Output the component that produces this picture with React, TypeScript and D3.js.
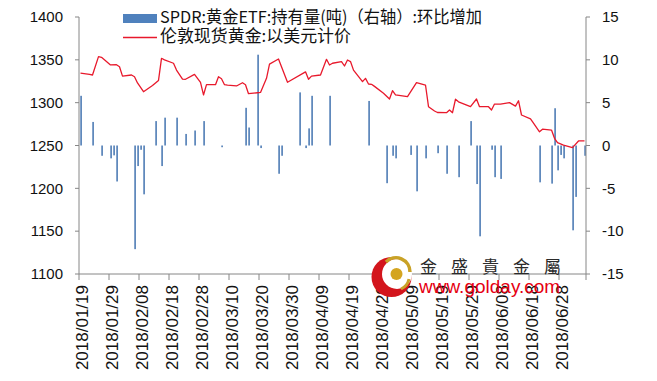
import React from "react";
import * as d3 from "d3";

const W = 657;
const H = 381;

// ETF holdings change (tonnes, right axis)
const etfDates = [
  "2018/01/19", "2018/01/23", "2018/01/26", "2018/01/29", "2018/01/30", "2018/01/31",
  "2018/02/06", "2018/02/07", "2018/02/08", "2018/02/09", "2018/02/13", "2018/02/15",
  "2018/02/16", "2018/02/20", "2018/02/23", "2018/02/26", "2018/03/01", "2018/03/07",
  "2018/03/15", "2018/03/16", "2018/03/19", "2018/03/20", "2018/03/26", "2018/03/27",
  "2018/04/02", "2018/04/04", "2018/04/05", "2018/04/06", "2018/04/12", "2018/04/25",
  "2018/05/01", "2018/05/03", "2018/05/04", "2018/05/09", "2018/05/11", "2018/05/14",
  "2018/05/18", "2018/05/21", "2018/05/25", "2018/05/29", "2018/05/31", "2018/06/01",
  "2018/06/05", "2018/06/06", "2018/06/08", "2018/06/21", "2018/06/25", "2018/06/26",
  "2018/06/27", "2018/06/28", "2018/06/29", "2018/07/02", "2018/07/03", "2018/07/06",
];
const etfValues = [
  5.8, 2.75, -1.2, -1.5, -1.15, -4.2,
  -12.1, -2.4, -0.5, -5.7, 2.85, -2.4,
  3.25, 3.25, 1.35, 1.75, 2.85, -0.2,
  4.4, 2.1, 10.6, -0.3, -3.3, -1.2,
  6.2, -0.3, 2.0, 5.8, 5.8, 5.2,
  -4.4, -1.2, -1.5, -1.1, -5.35, -1.5,
  -0.9, -3.3, -3.7, 2.85, -4.5, -10.6,
  -0.5, -3.7, -3.9, -4.3, -4.45, 4.35,
  -2.9, -1.1, -1.5, -9.9, -6.0, -1.2,
];

// London spot gold, USD (left axis)
const goldDates = [
  "2018/01/19", "2018/01/22", "2018/01/23", "2018/01/25", "2018/01/26", "2018/01/29",
  "2018/01/31", "2018/02/01", "2018/02/02", "2018/02/05", "2018/02/06", "2018/02/07",
  "2018/02/09", "2018/02/12", "2018/02/14", "2018/02/15", "2018/02/16", "2018/02/19",
  "2018/02/20", "2018/02/22", "2018/02/23", "2018/02/26", "2018/02/28", "2018/03/01",
  "2018/03/02", "2018/03/05", "2018/03/06", "2018/03/07", "2018/03/08", "2018/03/09",
  "2018/03/12", "2018/03/14", "2018/03/15", "2018/03/16", "2018/03/19", "2018/03/20",
  "2018/03/22", "2018/03/23", "2018/03/26", "2018/03/29", "2018/04/04", "2018/04/05",
  "2018/04/06", "2018/04/09", "2018/04/11", "2018/04/12", "2018/04/13", "2018/04/16",
  "2018/04/17", "2018/04/18", "2018/04/19", "2018/04/20", "2018/04/23", "2018/04/24",
  "2018/04/25", "2018/04/26", "2018/04/27", "2018/04/30", "2018/05/02", "2018/05/03",
  "2018/05/04", "2018/05/08", "2018/05/11", "2018/05/14", "2018/05/15", "2018/05/17",
  "2018/05/18", "2018/05/21", "2018/05/22", "2018/05/23", "2018/05/24", "2018/05/25",
  "2018/05/29", "2018/05/31", "2018/06/01", "2018/06/04", "2018/06/05", "2018/06/06",
  "2018/06/08", "2018/06/11", "2018/06/13", "2018/06/14", "2018/06/15", "2018/06/18",
  "2018/06/19", "2018/06/21", "2018/06/22", "2018/06/25", "2018/06/26", "2018/06/27",
  "2018/06/29", "2018/07/02", "2018/07/04", "2018/07/06",
];
const goldValues = [
  1334.5, 1333, 1332.3, 1353.7, 1353, 1344,
  1344.3, 1342, 1331, 1332.3, 1330.3, 1323,
  1312.8, 1320, 1326, 1351.8, 1350, 1346,
  1338, 1327.6, 1327.3, 1333, 1323.8, 1309,
  1321, 1321, 1330.3, 1328, 1321, 1320.5,
  1319.5, 1323.3, 1321, 1310.5, 1311.6, 1312,
  1328.4, 1345, 1351, 1323.8, 1336, 1327.3,
  1331, 1332.3, 1350.6, 1344, 1346, 1347.9,
  1342.8, 1349.8, 1348, 1338, 1324.5, 1328.4,
  1321.8, 1321.4, 1319, 1311, 1304.3, 1314,
  1309, 1307, 1323.3, 1320.6, 1295.3, 1290.3,
  1288.5, 1288.3, 1291.4, 1288.3, 1304, 1301,
  1295.3, 1304.3, 1295.3, 1295.3, 1291.4, 1298.4,
  1298.4, 1300, 1296, 1302.3, 1285.6, 1281,
  1276, 1266, 1269, 1268, 1258.4, 1253.3,
  1250.5, 1247.5, 1255.3, 1255.3,
];

const xTickLabels = [
  "2018/01/19", "2018/01/29", "2018/02/08", "2018/02/18", "2018/02/28", "2018/03/10",
  "2018/03/20", "2018/03/30", "2018/04/09", "2018/04/19", "2018/04/29", "2018/05/09",
  "2018/05/19", "2018/05/29", "2018/06/08", "2018/06/18", "2018/06/28",
];
const leftTicks = [1100, 1150, 1200, 1250, 1300, 1350, 1400];
const rightTicks = [-15, -10, -5, 0, 5, 10, 15];
const xDomain = ["2018/01/19", "2018/07/07"];

const legendBar = "SPDR:黄金ETF:持有量(吨)（右轴）:环比增加";
const legendLine = "伦敦现货黄金:以美元计价";

const parse = d3.utcParse("%Y/%m/%d");

export default function App() {
  const left = 79, right = 586, top = 17, bottom = 274;
  const x = d3.scaleUtc().domain(xDomain.map((s) => parse(s) as Date)).range([left, right]);
  const yL = d3.scaleLinear().domain([1100, 1400]).range([bottom, top]);
  const yR = d3.scaleLinear().domain([-15, 15]).range([bottom, top]);
  const center = (s: string) => x(d3.utcHour.offset(parse(s) as Date, 12));

  const line = d3
    .line<number>()
    .x((_, i) => center(goldDates[i]))
    .y((v) => yL(v));

  const axisColor = "#868686";
  const font = "'Liberation Sans', Arial, 'Noto Sans CJK SC', sans-serif";
  const cjk = "'Noto Sans CJK SC', 'Liberation Sans', sans-serif";
  const barColor = "#4F7DB5";
  const red = "#E8192C";

  return (
    <svg
      width={W}
      height={H}
      style={{ position: "absolute", left: 0, top: 0, background: "#fff" }}
      fontFamily={font}
    >
      <rect width={W} height={H} fill="#fff" />

      {/* bars */}
      {etfValues.map((v, i) => {
        const cx = center(etfDates[i]) + 0.6;
        const y0 = yR(0);
        const y1 = yR(v);
        return (
          <rect
            key={"b" + i}
            x={cx - 0.8}
            y={Math.min(y0, y1)}
            width={1.6}
            height={Math.max(1.2, Math.abs(y1 - y0))}
            fill={barColor}
          />
        );
      })}

      {/* gold line */}
      <path d={line(goldValues) || ""} fill="none" stroke={red} strokeWidth={1.3} strokeLinejoin="round" />

      {/* left axis */}
      <line x1={left} x2={left} y1={top} y2={bottom} stroke={axisColor} />
      {leftTicks.map((t) => (
        <g key={"l" + t}>
          <line x1={left - 4} x2={left} y1={yL(t)} y2={yL(t)} stroke={axisColor} />
          <text x={63} y={yL(t)} dy="0.35em" textAnchor="end" fontSize={15} fill="#111">
            {t}
          </text>
        </g>
      ))}

      {/* right axis */}
      <line x1={right} x2={right} y1={top} y2={bottom} stroke={axisColor} />
      {rightTicks.map((t) => (
        <g key={"r" + t}>
          <line x1={right} x2={right + 4} y1={yR(t)} y2={yR(t)} stroke={axisColor} />
          <text x={602} y={yR(t)} dy="0.35em" textAnchor="start" fontSize={15} fill="#111">
            {t}
          </text>
        </g>
      ))}

      {/* x axis */}
      <line x1={left} x2={right} y1={bottom} y2={bottom} stroke={axisColor} />
      {xTickLabels.map((s) => (
        <line key={"t" + s} x1={x(parse(s) as Date)} x2={x(parse(s) as Date)} y1={bottom} y2={bottom + 6} stroke={axisColor} />
      ))}
      <line x1={right} x2={right} y1={bottom} y2={bottom + 6} stroke={axisColor} />
      {xTickLabels.map((s) => (
        <text
          key={"x" + s}
          transform={`translate(${center(s) + 1.5},285) rotate(-90)`}
          dy="0.35em"
          textAnchor="end"
          fontSize={17}
          fill="#111"
        >
          {s}
        </text>
      ))}

      {/* legend */}
      <rect x={123} y={14} width={34} height={9} fill="#4F81BD" />
      <text x={160} y={23} fontSize={16.5} fontFamily={cjk} fill="#111" textLength={322} lengthAdjust="spacingAndGlyphs">
        {legendBar}
      </text>
      <line x1={123} x2={157} y1={37.5} y2={37.5} stroke={red} strokeWidth={1.3} />
      <text x={160} y={42} fontSize={16.5} fontFamily={cjk} fill="#111" textLength={191} lengthAdjust="spacingAndGlyphs">
        {legendLine}
      </text>

      {/* watermark */}
      <g>
        <circle cx={391.5} cy={277} r={20} fill="#D3151C" />
        <circle cx={397} cy={274} r={15} fill="#fff" />
        <path d="M 386 262 A 14 14 0 0 1 410 272" fill="none" stroke="#C9A227" strokeWidth={3.5} />
        <path d="M 409 279 A 14 14 0 0 1 401 289" fill="none" stroke="#C9A227" strokeWidth={3} />
        <circle cx={396.5} cy={274} r={6} fill="#D4A520" />
        <text x={420} y={273} fontSize={17} fontFamily="'Noto Sans CJK TC', sans-serif" fill="#2a2a2a" letterSpacing={14}>
          金盛貴金屬
        </text>
        <text x={419} y={292.5} fontSize={19} fill="#E60012">
          www.golday.com
        </text>
      </g>
    </svg>
  );
}
